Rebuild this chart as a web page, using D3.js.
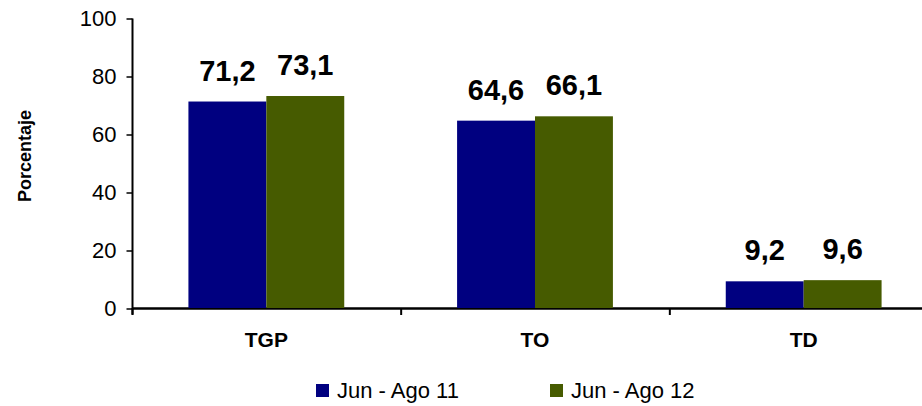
<!DOCTYPE html>
<html>
<head>
<meta charset="utf-8">
<script src="https://cdn.jsdelivr.net/npm/d3@7"></script>
<style>
  body { margin: 0; background: #fff; }
  svg { display: block; font-family: "Liberation Sans", Arial, sans-serif; }
</style>
</head>
<body>
<div id="chart"></div>
<script>
// data
const categories = ["TGP", "TO", "TD"];
const seriesNames = ["Jun - Ago 11", "Jun - Ago 12"];
const jun11 = [71.2, 64.6, 9.2];
const jun12 = [73.1, 66.1, 9.6];
const yTicks = [0, 20, 40, 60, 80, 100];

const colors = ["#000080", "#465b00"];
const W = 922, H = 406;

const data = categories.map((c, i) => ({cat: c, values: [jun11[i], jun12[i]]}));

const svg = d3.select("#chart")
  .append("svg")
  .attr("width", W)
  .attr("height", H);

// scales
let y = d3.scaleLinear()
  .domain([0, 100])
  .range([308, 18]);

let x0 = d3.scaleBand()
  .domain(categories)
  .range([132, 938])
  .paddingInner(0.42)
  .paddingOuter(0.21);

let x1 = d3.scaleBand()
  .domain([0, 1])
  .range([0, x0.bandwidth()]);

// y axis
let yAxis = svg.append("g")
  .attr("transform", "translate(132.5,0.5)")
  .call(d3.axisLeft(y).tickValues(yTicks).tickSize(6).tickSizeOuter(0).tickPadding(10));
yAxis.select(".domain").attr("stroke", "#000").attr("stroke-width", 2)
  .attr("d", "M0," + y(100) + "V" + (y(0) + 6));
yAxis.selectAll(".tick line").attr("stroke", "#000").attr("stroke-width", 1.5);
yAxis.selectAll("text")
  .style("font-size", "22px")
  .attr("fill", "#000");

// x axis line and boundary ticks
svg.append("line")
  .attr("x1", 132).attr("x2", W)
  .attr("y1", y(0) + 0.5).attr("y2", y(0) + 0.5)
  .attr("stroke", "#000").attr("stroke-width", 2.5);

let step = x0.step();
let bounds = d3.range(categories.length + 1).map(i => 132 + i * step);
svg.selectAll(".xtick")
  .data(bounds)
  .enter()
  .append("line")
  .attr("x1", d => d + 0.5).attr("x2", d => d + 0.5)
  .attr("y1", y(0)).attr("y2", y(0) + 7)
  .attr("stroke", "#000").attr("stroke-width", 2);

svg.selectAll(".catlabel")
  .data(categories)
  .enter()
  .append("text")
  .attr("x", d => x0(d) + x0.bandwidth() / 2)
  .attr("y", 347)
  .attr("text-anchor", "middle")
  .style("font-size", "21px")
  .style("font-weight", "bold")
  .text(d => d);

// bars
let groups = svg.selectAll(".grp")
  .data(data)
  .enter()
  .append("g")
  .attr("transform", d => "translate(" + x0(d.cat) + ",0)");

groups.selectAll("rect")
  .data(d => d.values.map((v, i) => ({i: i, v: v})))
  .enter()
  .append("rect")
  .attr("x", d => x1(d.i))
  .attr("y", d => y(d.v))
  .attr("width", x1.bandwidth())
  .attr("height", d => y(0) - y(d.v))
  .attr("fill", d => colors[d.i]);

groups.selectAll(".val")
  .data(d => d.values.map((v, i) => ({i: i, v: v})))
  .enter()
  .append("text")
  .attr("x", d => x1(d.i) + x1.bandwidth() / 2)
  .attr("y", d => y(d.v) - 21)
  .attr("text-anchor", "middle")
  .style("font-size", "29px")
  .style("font-weight", "bold")
  .text(d => d3.format(".1f")(d.v).replace(".", ","));

// y title
svg.append("text")
  .attr("transform", "translate(31,156) rotate(-90)")
  .attr("text-anchor", "middle")
  .style("font-size", "18px")
  .style("font-weight", "bold")
  .text("Porcentaje");

// legend
let legX = [316, 550];
let legend = svg.selectAll(".leg")
  .data(seriesNames)
  .enter()
  .append("g")
  .attr("transform", (d, i) => "translate(" + legX[i] + ",384)");
legend.append("rect")
  .attr("width", 13).attr("height", 13)
  .attr("fill", (d, i) => colors[i]);
legend.append("text")
  .attr("x", 21)
  .attr("y", 14)
  .style("font-size", "22px")
  .text(d => d);
</script>
</body>
</html>
